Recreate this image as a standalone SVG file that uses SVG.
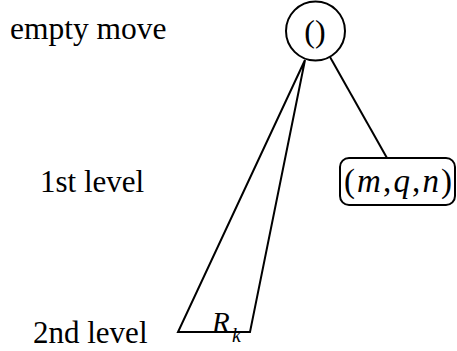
<svg xmlns="http://www.w3.org/2000/svg" width="457" height="351" viewBox="0 0 457 351">
<style>
.s{fill:none;stroke:#000;stroke-width:2;stroke-linejoin:miter}
.t{font-family:"Liberation Serif",serif;fill:#000}
.i{font-style:italic}
</style>
<rect width="457" height="351" fill="#fff"/>
<g id="labels">
<text class="t" x="10" y="39" font-size="31.5">empty move</text>
<text class="t" x="40" y="192" font-size="31">1st level</text>
<text class="t" x="33" y="343" font-size="31">2nd level</text>
</g>
<g id="connectors">
<line class="s" x1="330" y1="57" x2="387" y2="158"/>
</g>
<g id="root">
<circle class="s" cx="315.5" cy="31" r="29.5"/>
<text class="t" x="315" y="42" font-size="32" text-anchor="middle">()</text>
</g>
<g id="subtree-Rk">
<polygon class="s" points="305,60 178,332 250,332"/>
<text class="t i" x="212" y="332" font-size="29">R</text>
<text class="t i" x="232" y="342" font-size="20">k</text>
</g>
<g id="node-mqn">
<rect class="s" x="340" y="158" width="115" height="47" rx="9"/>
<text class="t" x="344" y="192" font-size="33" textLength="108" lengthAdjust="spacing">(<tspan class="i">m</tspan>,<tspan class="i">q</tspan>,<tspan class="i">n</tspan>)</text>
</g>
</svg>
